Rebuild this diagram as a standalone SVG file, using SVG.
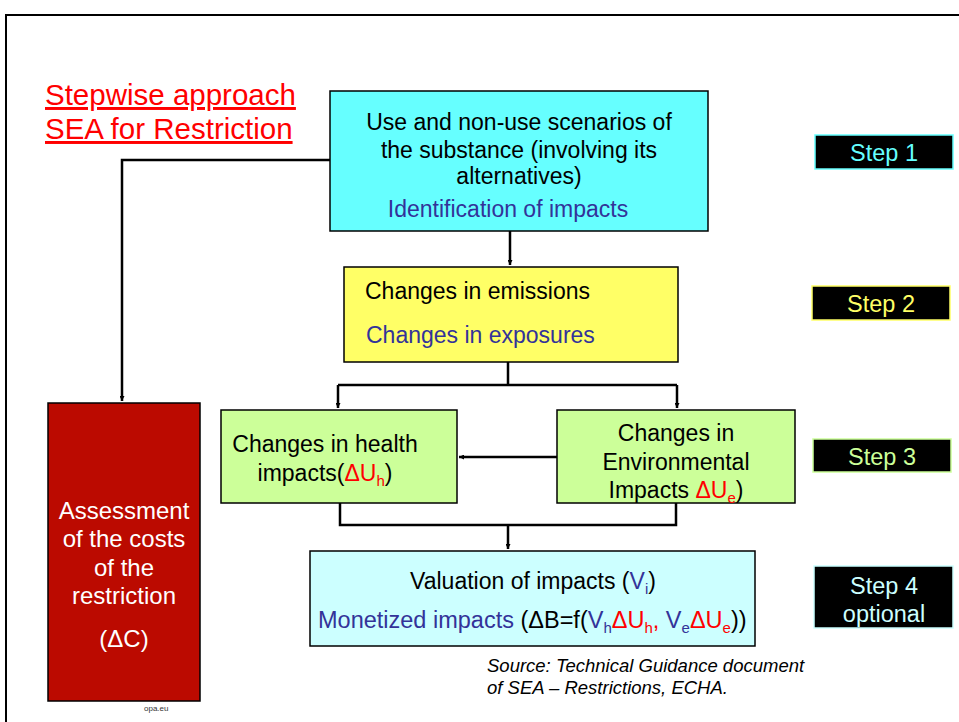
<svg xmlns="http://www.w3.org/2000/svg" width="959" height="722" viewBox="0 0 959 722">
<defs>
<marker id="ah" viewBox="0 0 10 10" refX="10" refY="5" markerWidth="5" markerHeight="5" orient="auto" markerUnits="userSpaceOnUse"><path d="M0,0 L10,5 L0,10 z" fill="#000"/></marker>
<style>
text{font-family:"Liberation Sans",Arial,sans-serif}
.box{stroke:#000;stroke-width:1.5}
.t{font-size:23px;fill:#000;text-anchor:middle}
.b{fill:#333399}
.r{fill:#ff0000}
.w{fill:#fff;font-size:24px;text-anchor:middle}
.con{fill:none;stroke:#000;stroke-width:2.5}
.step{font-size:23.5px;text-anchor:middle}
.s{font-size:15px}
</style>
</defs>
<rect width="959" height="722" fill="#fff"/>
<rect x="6" y="15" width="980" height="740" fill="none" stroke="#000" stroke-width="2"/>
<g id="title">
<text x="45" y="105" font-size="29.5" fill="#ff0000" text-decoration="underline">Stepwise approach</text>
<text x="45" y="139" font-size="29.5" fill="#ff0000" text-decoration="underline">SEA for Restriction</text>
</g>
<g id="connectors">
<path class="con" d="M330,160 H122 V401" marker-end="url(#ah)"/>
<path class="con" d="M510,231 V265" marker-end="url(#ah)"/>
<path class="con" d="M508,362 V385 M338,385 H677 M338,385 V408" marker-end="url(#ah)"/>
<path class="con" d="M677,385 V408" marker-end="url(#ah)"/>
<path class="con" d="M557,457 H459" marker-end="url(#ah)"/>
<path class="con" d="M340,503 V525 H676 V503 M508,525 V549" marker-end="url(#ah)"/>
</g>
<g id="scenarios">
<rect class="box" x="330" y="91" width="378" height="140" fill="#66ffff"/>
<text class="t" x="519" y="130">Use and non-use scenarios of</text>
<text class="t" x="519" y="158">the substance (involving its</text>
<text class="t" x="519" y="184">alternatives)</text>
<text class="t b" x="508" y="217">Identification of impacts</text>
</g>
<g id="emissions">
<rect class="box" x="344" y="267" width="334" height="95" fill="#ffff66"/>
<text x="365" y="299" font-size="23">Changes in emissions</text>
<text x="366" y="343" font-size="23" class="b">Changes in exposures</text>
</g>
<g id="health">
<rect class="box" x="221" y="410" width="236" height="93" fill="#ccff99"/>
<text class="t" x="325" y="452">Changes in health</text>
<text class="t" x="325" y="481">impacts(<tspan class="r">ΔU<tspan font-size="15" dy="5">h</tspan></tspan><tspan dy="-5">)</tspan></text>
</g>
<g id="environmental">
<rect class="box" x="557" y="410" width="238" height="93" fill="#ccff99"/>
<text class="t" x="676" y="441">Changes in</text>
<text class="t" x="676" y="470">Environmental</text>
<text class="t" x="676" y="498">Impacts <tspan class="r">ΔU<tspan font-size="15" dy="5">e</tspan></tspan><tspan dy="-5">)</tspan></text>
</g>
<g id="valuation">
<rect class="box" x="310" y="551" width="445" height="95" fill="#ccffff"/>
<text class="t" x="533" y="589">Valuation of impacts (<tspan class="b">V<tspan font-size="15" dy="5">i</tspan></tspan><tspan dy="-5">)</tspan></text>
<text x="318" y="628" font-size="23.5"><tspan class="b">Monetized impacts </tspan>(ΔB=f(<tspan class="b">V<tspan font-size="15" dy="5">h</tspan></tspan><tspan class="r" dy="-5">ΔU<tspan font-size="15" dy="5">h</tspan><tspan dy="-5">, </tspan></tspan><tspan class="b">V<tspan font-size="15" dy="5">e</tspan></tspan><tspan class="r" dy="-5">ΔU<tspan font-size="15" dy="5">e</tspan></tspan><tspan dy="-5">))</tspan></text>
</g>
<g id="costs">
<rect class="box" x="48" y="403" width="152" height="298" fill="#bb0a00"/>
<text class="w" x="124" y="519">Assessment</text>
<text class="w" x="124" y="547">of the costs</text>
<text class="w" x="124" y="576">of the</text>
<text class="w" x="124" y="604">restriction</text>
<text class="w" x="124" y="647">(ΔC)</text>
</g>
<text x="144" y="711" font-size="8" fill="#333">opa.eu</text>
<g id="step1">
<rect x="815" y="135" width="138" height="34" fill="#000" stroke="#66ffff" stroke-width="1.5"/>
<text class="step" x="884" y="161" fill="#66ffff">Step 1</text>
</g>
<g id="step2">
<rect x="812" y="286" width="138" height="34" fill="#000" stroke="#ffff66" stroke-width="1.5"/>
<text class="step" x="881" y="312" fill="#ffff66">Step 2</text>
</g>
<g id="step3">
<rect x="813" y="439" width="138" height="33" fill="#000" stroke="#ccff99" stroke-width="1.5"/>
<text class="step" x="882" y="465" fill="#ccff99">Step 3</text>
</g>
<g id="step4">
<rect x="814" y="566" width="139" height="62" fill="#000" stroke="#ccffff" stroke-width="1.5"/>
<text class="step" x="884" y="594" fill="#ccffff">Step 4</text>
<text class="step" x="884" y="622" fill="#ccffff">optional</text>
</g>
<g id="source">
<text x="487" y="672" font-size="18.5" font-style="italic">Source: Technical Guidance document</text>
<text x="487" y="694" font-size="18.5" font-style="italic">of SEA – Restrictions, ECHA.</text>
</g>
</svg>
